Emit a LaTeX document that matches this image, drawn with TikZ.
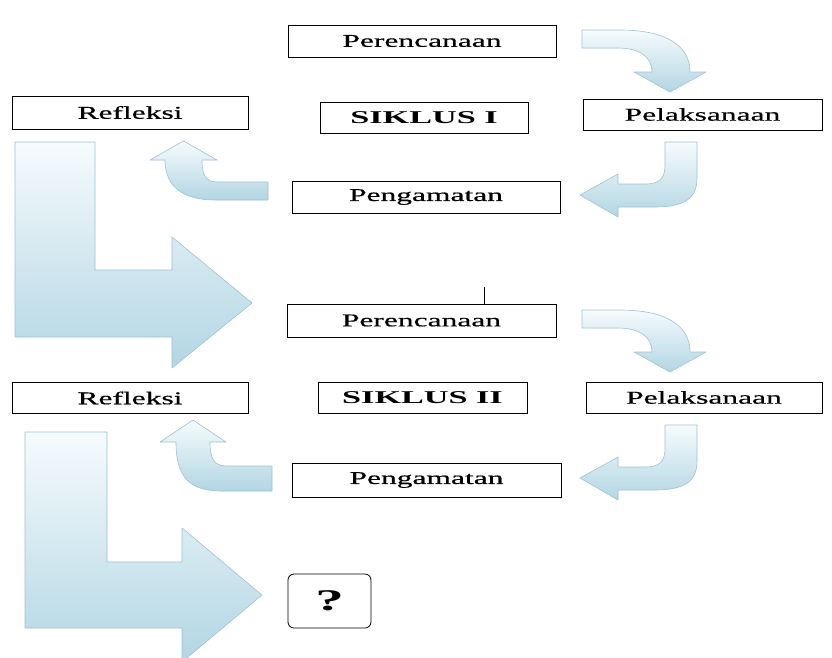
\documentclass[tikz,border=0pt]{standalone}
\usepackage{fontspec}
\setmainfont{Liberation Serif}[FakeStretch=1.75, FakeBold=0.6]
\newfontfamily\sikfont{Liberation Serif}[FakeStretch=1.9]
\definecolor{arrtop}{RGB}{246,251,253}
\definecolor{arrbot}{RGB}{178,214,227}
\definecolor{arredge}{RGB}{160,194,208}
\tikzset{
  box/.style={draw=black, line width=0.8pt, fill=white, inner sep=0pt, outer sep=0pt,
    font=\fontsize{18}{20}\selectfont},
  sikbox/.style={box, font=\sikfont\bfseries\fontsize{18}{20}\selectfont},
  blockarrow/.style={top color=arrtop, bottom color=arrbot, draw=arredge, line width=0.6pt, line join=round},
  arrA/.pic={
    \path[blockarrow] (582,30) -- (620,30) .. controls (665,30) and (690,45) .. (690,72)
      -- (706,72) -- (670,92) -- (634,72) -- (652,72)
      .. controls (652,57) and (640,48) .. (617,48) -- (582,48) -- cycle;
  },
  arrB/.pic={
    \path[blockarrow] (665,142) -- (697,142) -- (697,178) .. controls (697,198) and (685,207) .. (655,207)
      -- (618,207) -- (618,217) -- (580,195) -- (618,174) -- (618,184) -- (645,184)
      .. controls (660,184) and (665,178) .. (665,165) -- cycle;
  }
}
\begin{document}
\begin{tikzpicture}[x=1pt,y=-1pt]
\useasboundingbox (0,0) rectangle (832,657);
\fill[white] (0,0) rectangle (832,657);

% big L arrows
\path[blockarrow] (15,142) -- (95,142) -- (95,270) -- (172,270) -- (172,237) -- (252,303)
  -- (172,368) -- (172,337) -- (15,337) -- cycle;
\path[blockarrow] (25,432) -- (107,432) -- (107,562) -- (182,562) -- (182,528) -- (262,595)
  -- (182,662) -- (182,628) -- (25,628) -- cycle;

% curved arrows, cycle I
\pic at (0,0) {arrA};
\pic at (0,0) {arrB};
\path[blockarrow] (268,182) -- (268,200) -- (215,200) .. controls (185,200) and (165,188) .. (165,160)
  -- (150,160) -- (183.5,141) -- (217,160) -- (202,160)
  .. controls (202,176) and (206,182) .. (218,182) -- cycle;

% curved arrows, cycle II
\pic at (0,280) {arrA};
\pic at (0,283) {arrB};
\path[blockarrow] (272,466) -- (272,491) -- (222,491) .. controls (190,491) and (176,478) .. (176,442)
  -- (160,442) -- (193,420) -- (226,442) -- (210,442)
  .. controls (210,458) and (214,466) .. (226,466) -- cycle;

% cycle I boxes
\node[box, minimum width=268pt, minimum height=32pt] (p1) at (422,41) {Perencanaan};
\node[box, minimum width=236pt, minimum height=33pt] (r1) at (130,112.5) {Refleksi};
\node[sikbox, minimum width=208pt, minimum height=31pt] (s1) at (424,117.5) {SIKLUS I};
\node[box, minimum width=239pt, minimum height=31pt] (l1) at (702.5,114.5) {Pelaksanaan};
\node[box, minimum width=268pt, minimum height=32pt] (g1) at (426,197) {Pengamatan};

% cycle II boxes
\node[box, minimum width=269pt, minimum height=33pt] (p2) at (421.5,320.5) {Perencanaan};
\node[box, minimum width=236pt, minimum height=31pt] (r2) at (130,398) {Refleksi};
\node[sikbox, minimum width=209pt, minimum height=31pt] (s2) at (422.5,397.5) {SIKLUS II};
\node[box, minimum width=236pt, minimum height=31pt] (l2) at (704,397.5) {Pelaksanaan};
\node[box, minimum width=269pt, minimum height=34pt] (g2) at (426.5,480) {Pengamatan};

\coordinate (tk) at (484,287);
\draw[line width=0.8pt] (tk) -- (tk |- p2.north);

\node[box, rounded corners=6pt, minimum width=83pt, minimum height=54pt,
  font=\sikfont\bfseries\fontsize{30}{32}\selectfont] (q) at (329.5,601) {?};
\end{tikzpicture}
\end{document}
